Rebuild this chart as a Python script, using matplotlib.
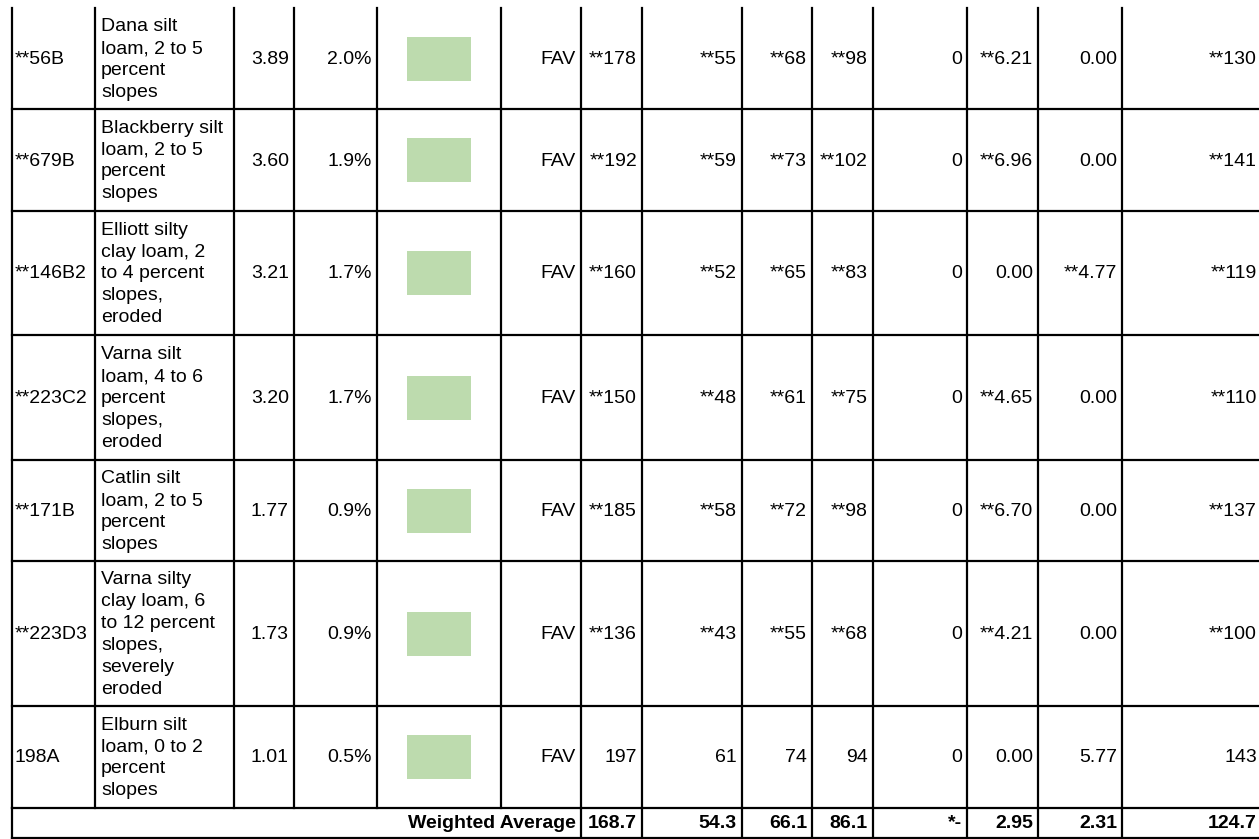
import matplotlib.pyplot as plt
from matplotlib.patches import Rectangle

plt.rcParams['font.family'] = ['Liberation Sans', 'DejaVu Sans']

# table contents, one list per column
codes = ['**56B', '**679B', '**146B2', '**223C2', '**171B', '**223D3', '198A']
soil_names = [
    'Dana silt\nloam, 2 to 5\npercent\nslopes',
    'Blackberry silt\nloam, 2 to 5\npercent\nslopes',
    'Elliott silty\nclay loam, 2\nto 4 percent\nslopes,\neroded',
    'Varna silt\nloam, 4 to 6\npercent\nslopes,\neroded',
    'Catlin silt\nloam, 2 to 5\npercent\nslopes',
    'Varna silty\nclay loam, 6\nto 12 percent\nslopes,\nseverely\neroded',
    'Elburn silt\nloam, 0 to 2\npercent\nslopes',
]
acres = ['3.89', '3.60', '3.21', '3.20', '1.77', '1.73', '1.01']
pct_field = ['2.0%', '1.9%', '1.7%', '1.7%', '0.9%', '0.9%', '0.5%']
drainage = ['FAV'] * 7
corn = ['**178', '**192', '**160', '**150', '**185', '**136', '197']
soybeans = ['**55', '**59', '**52', '**48', '**58', '**43', '61']
wheat = ['**68', '**73', '**65', '**61', '**72', '**55', '74']
oats = ['**98', '**102', '**83', '**75', '**98', '**68', '94']
sorghum = ['0', '0', '0', '0', '0', '0', '0']
alfalfa = ['**6.21', '**6.96', '0.00', '**4.65', '**6.70', '**4.21', '0.00']
pasture = ['0.00', '0.00', '**4.77', '0.00', '0.00', '0.00', '5.77']
prod_index = ['**130', '**141', '**119', '**110', '**137', '**100', '143']

avg_label = 'Weighted Average'
avg_values = ['168.7', '54.3', '66.1', '86.1', '*-', '2.95', '2.31', '124.7']

# layout (pixels)
W, H = 1259, 839
col_edges = [12, 95, 234, 294, 377, 501, 581, 642, 742, 812, 873, 967, 1038, 1122, 1300]
row_edges = [8, 109, 211, 335, 460, 561, 706, 808, 838]
swatch_color = '#bddbae'

fig = plt.figure(figsize=(W / 100, H / 100), dpi=100)
ax = fig.add_axes([0, 0, 1, 1])
ax.set_xlim(0, W)
ax.set_ylim(H, 0)
ax.axis('off')

lw = 1.6
# horizontal lines
for y in row_edges[1:]:
    ax.plot([col_edges[0], W], [y, y], color='black', lw=lw)
# vertical lines in data rows
for x in col_edges[:-1]:
    ax.plot([x, x], [row_edges[0], row_edges[-2]], color='black', lw=lw)
# vertical lines in the average row
for x in [col_edges[0]] + col_edges[6:-1]:
    ax.plot([x, x], [row_edges[-2], row_edges[-1]], color='black', lw=lw)

fs = 14
pad = 5
right_cols = [acres, pct_field, None, drainage, corn, soybeans, wheat, oats,
              sorghum, alfalfa, pasture, prod_index]

for i in range(len(codes)):
    y0, y1 = row_edges[i], row_edges[i + 1]
    yc = (y0 + y1) / 2 + 1
    ax.text(col_edges[0] + 3, yc, codes[i], ha='left', va='center', fontsize=fs)
    ax.text(col_edges[1] + 6, yc, soil_names[i], ha='left', va='center',
            fontsize=fs, linespacing=1.37)
    for j, col in enumerate(right_cols):
        c = j + 2
        if col is None:
            ax.add_patch(Rectangle((407, yc - 23), 64, 44, facecolor=swatch_color,
                                   edgecolor='none'))
            continue
        x_right = col_edges[c + 1] - pad
        if c == 13:
            x_right = 1257
        ax.text(x_right, yc, col[i], ha='right', va='center', fontsize=fs,
                clip_on=True)

# weighted average row
yc = (row_edges[-2] + row_edges[-1]) / 2 + 1
ax.text(col_edges[6] - pad, yc, avg_label, ha='right', va='center',
        fontsize=fs, fontweight='bold')
for k, v in enumerate(avg_values):
    c = 6 + k
    x_right = col_edges[c + 1] - pad if c < 13 else 1257
    ax.text(x_right, yc, v, ha='right', va='center', fontsize=fs, fontweight='bold')

fig.savefig('out.png', dpi=100)
